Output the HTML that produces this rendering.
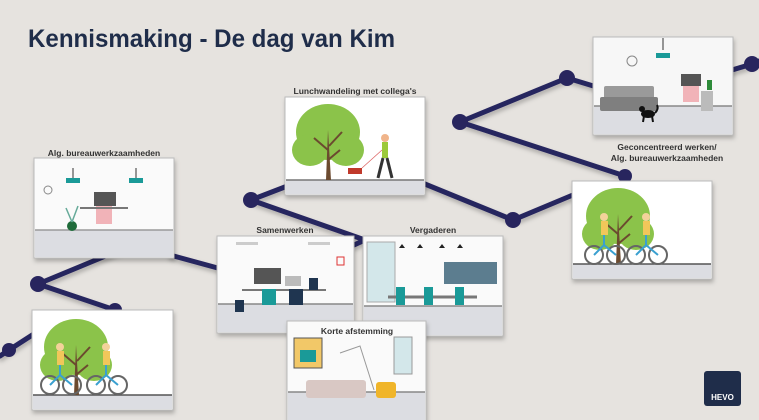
<!DOCTYPE html>
<html><head><meta charset="utf-8"><style>
html,body{margin:0;padding:0;width:759px;height:420px;overflow:hidden;background:#e6e3df;}
svg{display:block}
text{font-family:"Liberation Sans",sans-serif;}
</style></head><body>
<svg width="759" height="420" viewBox="0 0 759 420" xmlns="http://www.w3.org/2000/svg">
<defs>
<filter id="sh" x="-10%" y="-10%" width="130%" height="140%"><feDropShadow dx="1" dy="3" stdDeviation="2" flood-color="#000" flood-opacity="0.25"/></filter>
<g id="tree">
 <ellipse cx="0" cy="-48" rx="32" ry="28" fill="#8bc34a"/>
 <ellipse cx="-18" cy="-30" rx="18" ry="16" fill="#8bc34a"/>
 <ellipse cx="18" cy="-30" rx="18" ry="16" fill="#8bc34a"/>
 <path d="M-2 0 L0 -50 L3 0 Z" fill="#6b4a2f"/>
 <path d="M0 -30 L-14 -42 M1 -34 L14 -48 M0 -20 L12 -30" stroke="#6b4a2f" stroke-width="2"/>
</g>
<g id="bike">
 <circle cx="-10" cy="0" r="9" fill="none" stroke="#666" stroke-width="2"/>
 <circle cx="12" cy="0" r="9" fill="none" stroke="#666" stroke-width="2"/>
 <path d="M-10 0 L0 -10 L12 0 M0 -10 L0 -20" stroke="#3aa0d0" stroke-width="2" fill="none"/>
 <rect x="-3" y="-34" width="7" height="14" fill="#f1c75a"/>
 <circle cx="0" cy="-38" r="4" fill="#f3d29a"/>
</g>
</defs>

<text x="28" y="47" font-size="25" font-weight="bold" fill="#1f2d4a" textLength="367" lengthAdjust="spacingAndGlyphs">Kennismaking - De dag van Kim</text>

<g stroke="#28255e" stroke-width="5" fill="none" stroke-linecap="round" filter="url(#sh)">
 <polyline points="0,356 9,350 40,330"/>
 <polyline points="115,310 38,284 120,250"/>
 <polyline points="170,255 225,270"/>
 <polyline points="290,185 251,200 365,240"/>
 <polyline points="420,182 513,220 580,192"/>
 <polyline points="600,88 567,78 460,122 625,176"/>
 <polyline points="712,76 752,64 759,61"/>
 <polyline points="354,245 365,240"/>
</g>
<g fill="#28255e">
 <circle cx="9" cy="350" r="7"/><circle cx="38" cy="284" r="8"/><circle cx="115" cy="310" r="7"/>
 <circle cx="251" cy="200" r="8"/><circle cx="513" cy="220" r="8"/><circle cx="460" cy="122" r="8"/>
 <circle cx="567" cy="78" r="8"/><circle cx="625" cy="176" r="7"/><circle cx="752" cy="64" r="8"/>
</g>

<text x="104" y="156" font-size="8.5" font-weight="bold" fill="#333" text-anchor="middle">Alg. bureauwerkzaamheden</text>
<g filter="url(#sh)"><rect x="34" y="158" width="140" height="100" fill="#fafafa" stroke="#bbb"/></g>
<rect x="35" y="230" width="138" height="27" fill="#dcdde2"/><line x1="35" y1="230" x2="173" y2="230" stroke="#999" stroke-width="1.5"/>
<line x1="73" y1="168" x2="73" y2="178" stroke="#333"/><line x1="136" y1="168" x2="136" y2="178" stroke="#333"/>
<rect x="66" y="178" width="14" height="5" fill="#1a9a98"/><rect x="129" y="178" width="14" height="5" fill="#1a9a98"/>
<circle cx="48" cy="190" r="4" fill="none" stroke="#888"/>
<rect x="94" y="192" width="22" height="14" fill="#555"/><rect x="96" y="206" width="16" height="18" fill="#f1b3b8"/>
<line x1="80" y1="208" x2="128" y2="208" stroke="#777" stroke-width="2"/>
<circle cx="72" cy="226" r="5" fill="#1f6b3a"/><path d="M72 222 L66 208 M72 222 L78 206" stroke="#6a9" stroke-width="1.5"/>

<text x="355" y="94" font-size="8.5" font-weight="bold" fill="#333" text-anchor="middle">Lunchwandeling met collega's</text>
<g filter="url(#sh)"><rect x="285" y="97" width="140" height="98" fill="#fff" stroke="#bbb"/></g>
<rect x="286" y="180" width="138" height="14" fill="#dcdde2"/><line x1="286" y1="180" x2="424" y2="180" stroke="#777" stroke-width="1.5"/>
<use href="#tree" x="328" y="180"/>
<rect x="348" y="168" width="14" height="6" fill="#c0392b"/>
<path d="M362 168 L382 150" stroke="#d66" stroke-width="0.8"/>
<rect x="382" y="142" width="6" height="16" fill="#9cc93a"/><circle cx="385" cy="138" r="4" fill="#f0b48a"/>
<path d="M383 158 L378 178 M387 158 L392 178" stroke="#333" stroke-width="3"/>

<g filter="url(#sh)"><rect x="593" y="37" width="140" height="98" fill="#f7f7f7" stroke="#bbb"/></g>
<rect x="594" y="106" width="138" height="28" fill="#dcdde2"/><line x1="594" y1="106" x2="732" y2="106" stroke="#888" stroke-width="1.5"/>
<line x1="663" y1="38" x2="663" y2="50" stroke="#333"/><rect x="656" y="53" width="14" height="5" fill="#1a9a98"/>
<circle cx="632" cy="61" r="5" fill="none" stroke="#888"/>
<rect x="604" y="86" width="50" height="18" rx="2" fill="#9a9a9a"/><rect x="600" y="97" width="58" height="14" rx="2" fill="#7f7f7f"/>
<ellipse cx="648" cy="114" rx="7" ry="4" fill="#111"/><circle cx="642" cy="109" r="3" fill="#111"/>
<path d="M644 116 l-1 6 M652 116 l1 6 M655 113 q4 -4 2 -8" stroke="#111" stroke-width="2" fill="none"/>
<rect x="681" y="74" width="20" height="12" fill="#555"/><rect x="683" y="86" width="16" height="16" fill="#f1b3b8"/>
<rect x="701" y="91" width="12" height="20" fill="#bbb"/><rect x="707" y="80" width="5" height="10" fill="#2e8b3a"/>
<text x="667" y="150" font-size="8.5" font-weight="bold" fill="#333" text-anchor="middle">Geconcentreerd werken/</text>
<text x="667" y="161" font-size="8.5" font-weight="bold" fill="#333" text-anchor="middle">Alg. bureauwerkzaamheden</text>

<g filter="url(#sh)"><rect x="572" y="181" width="140" height="98" fill="#fff" stroke="#bbb"/></g>
<rect x="573" y="264" width="138" height="14" fill="#dcdde2"/><line x1="573" y1="264" x2="711" y2="264" stroke="#555" stroke-width="1.5"/>
<use href="#tree" x="618" y="264"/>
<use href="#bike" x="604" y="255"/><use href="#bike" x="646" y="255"/>

<g filter="url(#sh)"><rect x="32" y="310" width="141" height="100" fill="#fff" stroke="#bbb"/></g>
<rect x="33" y="395" width="139" height="14" fill="#dcdde2"/><line x1="33" y1="395" x2="172" y2="395" stroke="#555" stroke-width="1.5"/>
<use href="#tree" x="76" y="395"/>
<use href="#bike" x="60" y="385"/><use href="#bike" x="106" y="385"/>

<text x="285" y="233" font-size="8.5" font-weight="bold" fill="#333" text-anchor="middle">Samenwerken</text>
<g filter="url(#sh)"><rect x="217" y="236" width="137" height="97" fill="#fafafa" stroke="#bbb"/></g>
<rect x="218" y="304" width="135" height="28" fill="#dcdde2"/><line x1="218" y1="304" x2="353" y2="304" stroke="#888" stroke-width="1.5"/>
<rect x="236" y="242" width="22" height="3" fill="#ccc"/><rect x="308" y="242" width="22" height="3" fill="#ccc"/>
<rect x="337" y="257" width="7" height="8" fill="none" stroke="#d33"/>
<rect x="254" y="268" width="27" height="16" fill="#555"/><rect x="285" y="276" width="16" height="10" fill="#bbb"/>
<line x1="242" y1="290" x2="326" y2="290" stroke="#777" stroke-width="2"/>
<rect x="262" y="289" width="14" height="16" fill="#1a9a98"/><rect x="289" y="289" width="14" height="16" fill="#1f3550"/>
<rect x="235" y="300" width="9" height="12" fill="#1f3550"/><rect x="309" y="278" width="9" height="12" fill="#1f3550"/>

<text x="433" y="233" font-size="8.5" font-weight="bold" fill="#333" text-anchor="middle">Vergaderen</text>
<g filter="url(#sh)"><rect x="363" y="236" width="140" height="100" fill="#fafafa" stroke="#bbb"/></g>
<rect x="364" y="306" width="138" height="29" fill="#dcdde2"/><line x1="364" y1="306" x2="502" y2="306" stroke="#888" stroke-width="1.5"/>
<rect x="367" y="242" width="28" height="60" fill="#d3e7ea" stroke="#aaa"/>
<rect x="444" y="262" width="53" height="22" fill="#5c7d8f"/>
<line x1="388" y1="297" x2="477" y2="297" stroke="#777" stroke-width="3"/>
<rect x="396" y="287" width="9" height="18" fill="#1a9a98"/><rect x="424" y="287" width="9" height="18" fill="#1a9a98"/><rect x="455" y="287" width="9" height="18" fill="#1a9a98"/>
<path d="M402 244 l-3 4 h6z M420 244 l-3 4 h6z M442 244 l-3 4 h6z M460 244 l-3 4 h6z" fill="#222"/>

<g filter="url(#sh)"><rect x="287" y="321" width="139" height="100" fill="#fafafa" stroke="#bbb"/></g>
<rect x="288" y="392" width="137" height="28" fill="#dcdde2"/><line x1="288" y1="392" x2="425" y2="392" stroke="#888" stroke-width="1.5"/>
<text x="357" y="334" font-size="8.5" font-weight="bold" fill="#333" text-anchor="middle">Korte afstemming</text>
<rect x="294" y="338" width="28" height="30" fill="#f2c868" stroke="#555"/><rect x="300" y="350" width="16" height="12" fill="#1a9a98"/>
<rect x="394" y="337" width="18" height="37" fill="#d3e7ea" stroke="#999"/>
<path d="M340 353 L360 346 L374 390" stroke="#999" fill="none"/>
<rect x="306" y="380" width="60" height="18" rx="3" fill="#d9c8c4"/>
<rect x="376" y="382" width="20" height="16" rx="3" fill="#f0b52a"/>

<rect x="704" y="371" width="37" height="35" rx="3" fill="#1f2d4a"/>
<text x="722.5" y="400" font-size="8" font-weight="bold" fill="#fff" text-anchor="middle">HEVO</text>
</svg>
</body></html>
